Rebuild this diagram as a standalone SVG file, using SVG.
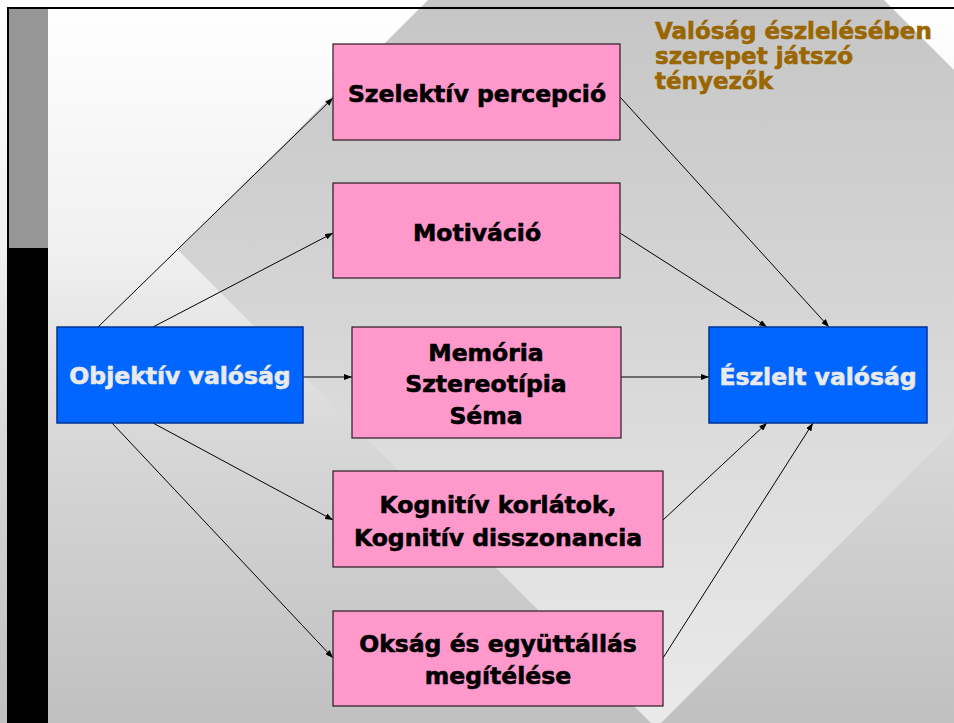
<svg xmlns="http://www.w3.org/2000/svg" width="954" height="723" viewBox="0 0 954 723">
<defs>
<linearGradient id="bg" x1="0" y1="0" x2="0" y2="723" gradientUnits="userSpaceOnUse">
<stop offset="0" stop-color="#ffffff"/>
<stop offset="0.35" stop-color="#f0f0f0"/>
<stop offset="0.6" stop-color="#d8d8d8"/>
<stop offset="1" stop-color="#c0c0c0"/>
</linearGradient>
<linearGradient id="dia" x1="0" y1="9" x2="0" y2="723" gradientUnits="userSpaceOnUse">
<stop offset="0" stop-color="#c6c6c6"/>
<stop offset="1" stop-color="#eaeaea"/>
</linearGradient>
<marker id="arr" markerUnits="userSpaceOnUse" markerWidth="8" markerHeight="6" refX="8" refY="3" orient="auto">
<path d="M0,0 L8,3 L0,6 z" fill="#000"/>
</marker>
<style>
.lbl{font-family:"DejaVu Sans","Verdana","Liberation Sans",sans-serif;font-weight:bold;font-size:23.5px;text-anchor:middle;fill:#000;stroke:#000;stroke-width:0.6}
.blbl{font-family:"DejaVu Sans","Verdana","Liberation Sans",sans-serif;font-weight:bold;font-size:23.5px;text-anchor:middle;fill:#eaeaea;stroke:#eaeaea;stroke-width:0.6}
.ttl{font-family:"DejaVu Sans","Verdana","Liberation Sans",sans-serif;font-weight:bold;font-size:23px;fill:#996600;stroke:#996600;stroke-width:0.6}
.pink{fill:#ff99cc;stroke:#2a1a22;stroke-width:1.2}
.blue{fill:#0066ff;stroke:#003399;stroke-width:1.5}
.con{stroke:#000;stroke-width:1;fill:none;marker-end:url(#arr)}
</style>
</defs>
<g id="background">
<rect x="0" y="0" width="954" height="723" fill="url(#bg)"/>
<polygon points="656,-228 1134,250 656,728 178,250" fill="url(#dia)"/>
<rect x="9" y="9" width="39" height="239" fill="#969696"/>
<rect x="7" y="248" width="41" height="475" fill="#000"/>
<line x1="7" y1="8" x2="954" y2="8" stroke="#000" stroke-width="2"/>
<line x1="8" y1="7" x2="8" y2="248" stroke="#000" stroke-width="2"/>
</g>
<g id="title">
<text class="ttl" x="655" y="39">Valóság észlelésében</text>
<text class="ttl" x="655" y="64">szerepet játszó</text>
<text class="ttl" x="655" y="89">tényezők</text>
</g>
<g id="connectors">
<line class="con" x1="98" y1="327" x2="333" y2="98"/>
<line class="con" x1="153" y1="327" x2="333" y2="233"/>
<line class="con" x1="303" y1="377" x2="352" y2="377"/>
<line class="con" x1="153" y1="423" x2="333" y2="520"/>
<line class="con" x1="112" y1="423" x2="333" y2="658"/>
<line class="con" x1="620" y1="97" x2="829" y2="327"/>
<line class="con" x1="620" y1="233" x2="767" y2="327"/>
<line class="con" x1="621" y1="377" x2="709" y2="377"/>
<line class="con" x1="663" y1="520" x2="767" y2="423"/>
<line class="con" x1="663" y1="658" x2="813" y2="423"/>
</g>
<g id="objektiv">
<rect class="blue" x="57" y="327" width="246" height="96"/>
<text class="blbl" x="180" y="384">Objektív valóság</text>
</g>
<g id="eszlelt">
<rect class="blue" x="709" y="327" width="218" height="96"/>
<text class="blbl" x="818" y="385">Észlelt valóság</text>
</g>
<g id="szelektiv">
<rect class="pink" x="333" y="44" width="287" height="96"/>
<text class="lbl" x="477" y="102">Szelektív percepció</text>
</g>
<g id="motivacio">
<rect class="pink" x="333" y="183" width="287" height="95"/>
<text class="lbl" x="477" y="241">Motiváció</text>
</g>
<g id="memoria">
<rect class="pink" x="352" y="327" width="269" height="111"/>
<text class="lbl" x="486" y="361">Memória</text>
<text class="lbl" x="486" y="392">Sztereotípia</text>
<text class="lbl" x="486" y="424">Séma</text>
</g>
<g id="kognitiv">
<rect class="pink" x="333" y="471" width="330" height="96"/>
<text class="lbl" x="498" y="513">Kognitív korlátok,</text>
<text class="lbl" x="498" y="546">Kognitív disszonancia</text>
</g>
<g id="oksag">
<rect class="pink" x="333" y="611" width="330" height="95"/>
<text class="lbl" x="498" y="652">Okság és együttállás</text>
<text class="lbl" x="498" y="684">megítélése</text>
</g>
</svg>
